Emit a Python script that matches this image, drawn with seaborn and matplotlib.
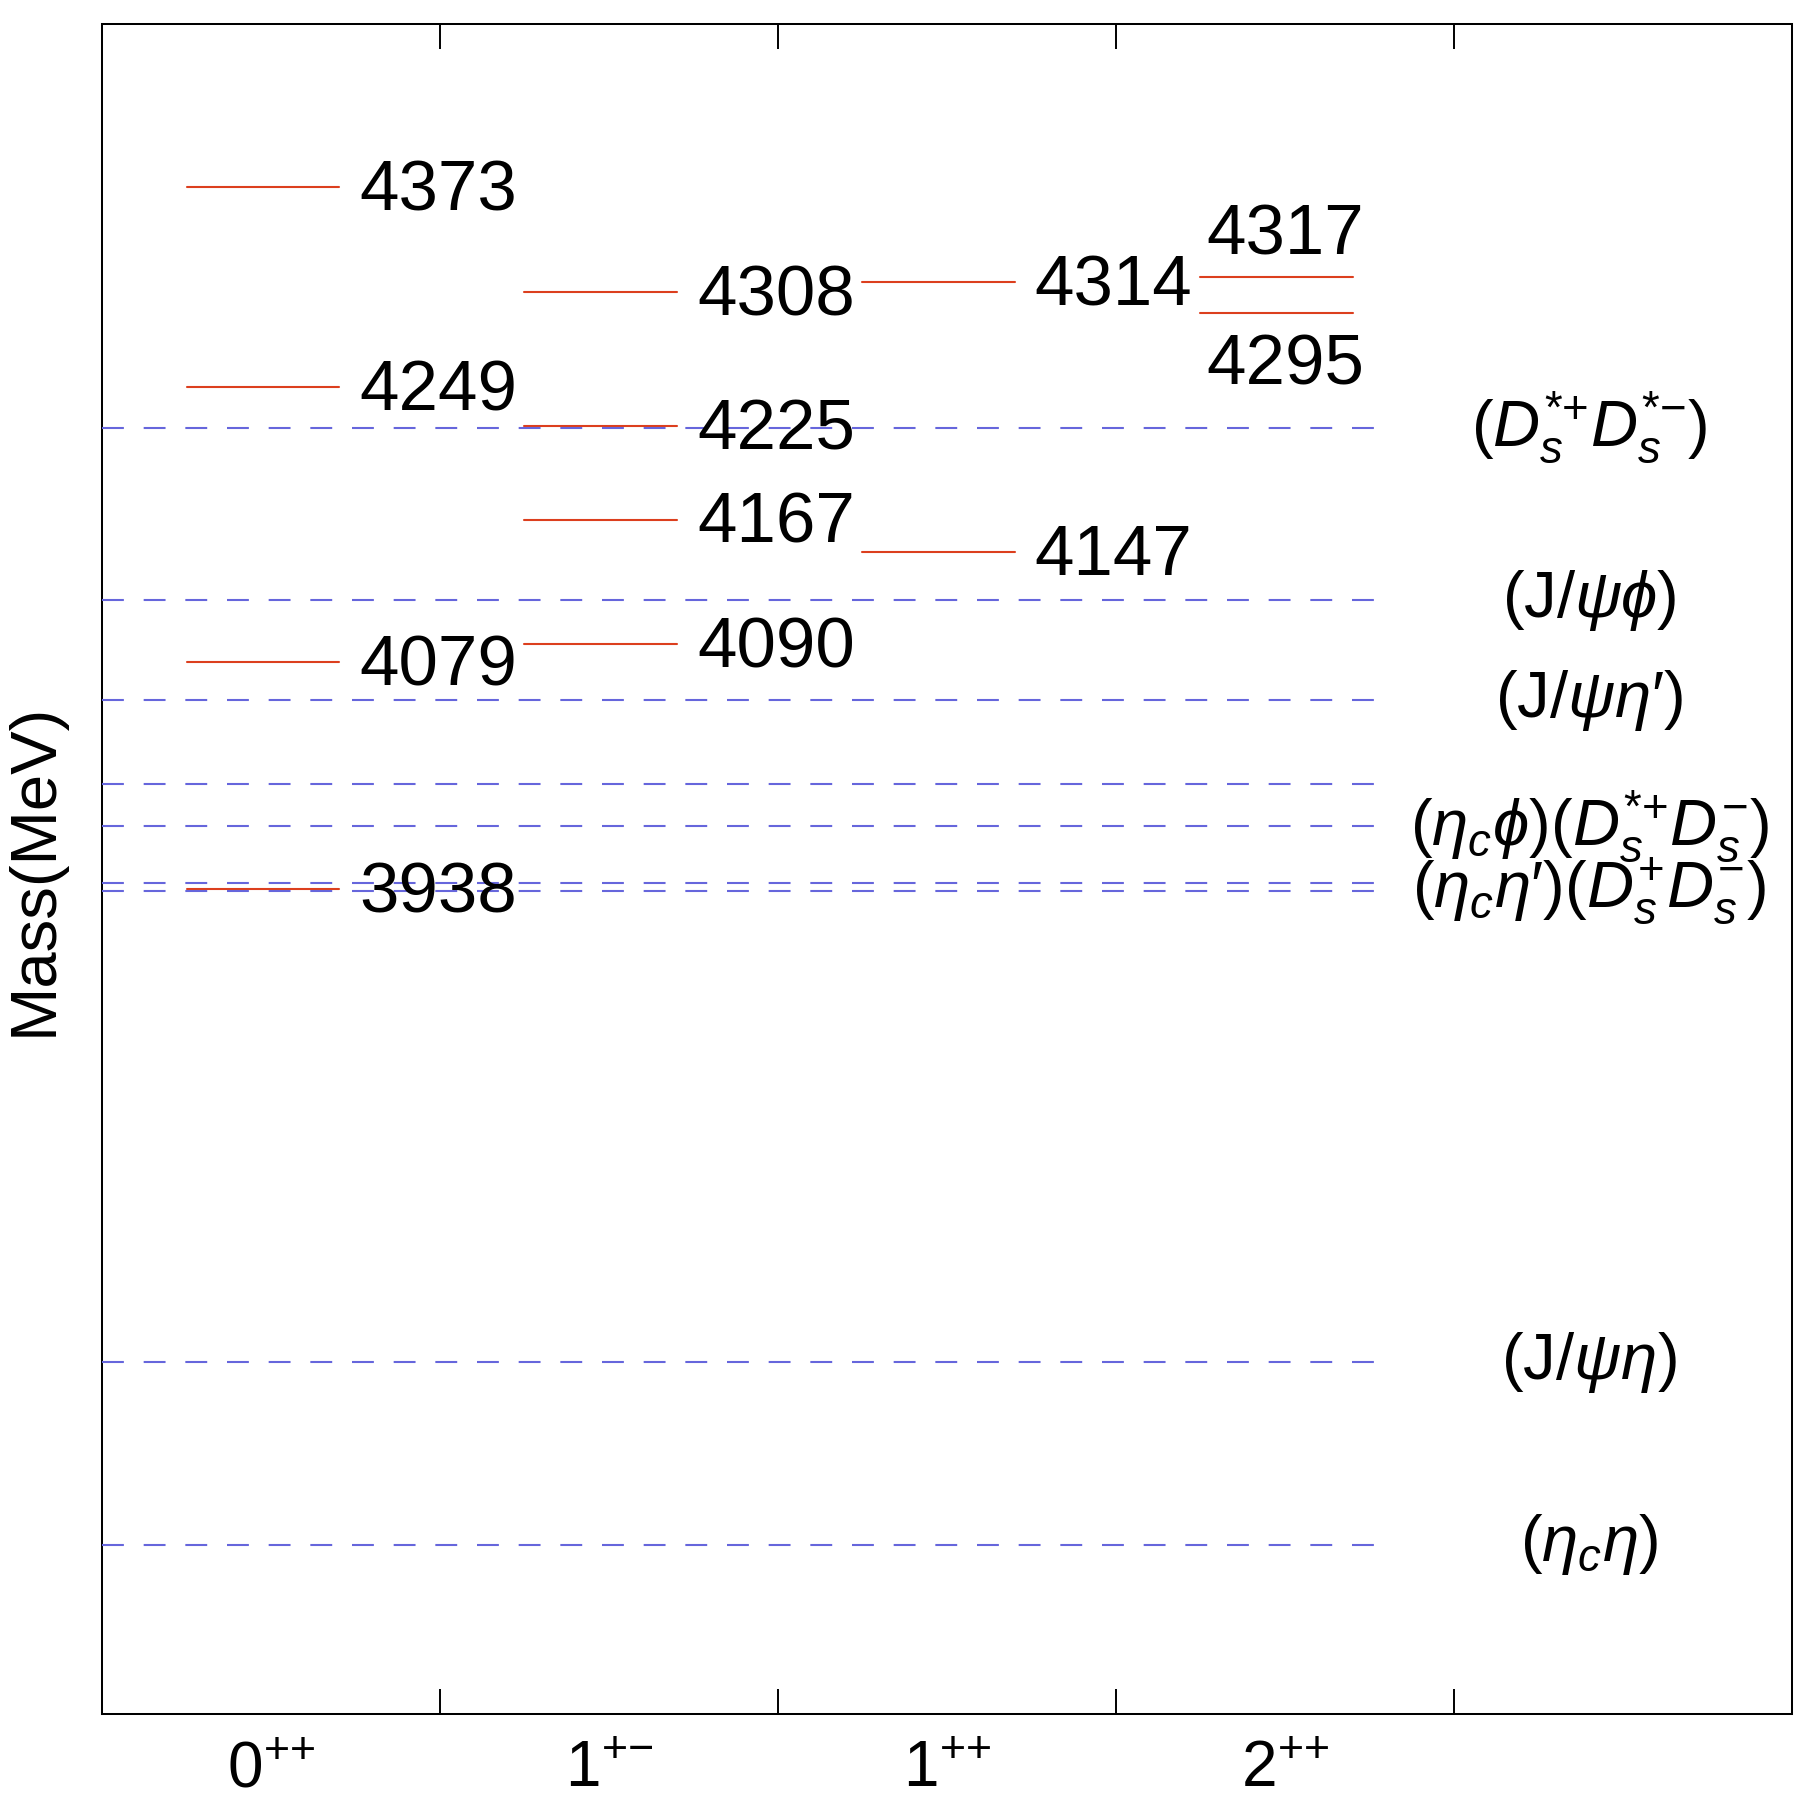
import matplotlib
matplotlib.use("Agg")

import pandas as pd
import matplotlib.pyplot as plt
import seaborn as sns


# J^PC columns
JPC_LABELS = [r"$0^{{+}{+}}$", r"$1^{{+}{-}}$", r"$1^{{+}{+}}$", r"$2^{{+}{+}}$"]

# predicted states (MeV), column index into JPC_LABELS
LEVEL_COLUMN = [0, 0, 0, 0, 1, 1, 1, 1, 2, 2, 3, 3]
LEVEL_MASS = [4373, 4249, 4079, 3938, 4308, 4225, 4167, 4090, 4314, 4147, 4317, 4295]

# two-meson thresholds (MeV); empty label = shares the label of the next line
THRESHOLD_MASS = [4224, 4117, 4055, 4003, 3977, 3942, 3937, 3645, 3532]
THRESHOLD_LABEL = [
    r"$(D_s^{{*}{+}}D_s^{{*}{-}})$",
    r"$(\mathrm{J}/\psi\phi)$",
    r"$(\mathrm{J}/\psi\eta\prime)$",
    "",
    r"$(\eta_c\phi)(D_s^{{*}{+}}D_s^{-})$",
    "",
    r"$(\eta_c\eta\prime)(D_s^{+}D_s^{-})$",
    r"$(\mathrm{J}/\psi\eta)$",
    r"$(\eta_c\eta)$",
]

RED = "#dc3f1e"
BLUE = "#6666dc"


def main() -> None:
    sns.set_theme(style="white")
    plt.rcParams["font.family"] = ["Liberation Sans", "DejaVu Sans"]
    plt.rcParams["mathtext.fontset"] = "custom"
    plt.rcParams["mathtext.rm"] = "Liberation Sans"
    plt.rcParams["mathtext.it"] = "Liberation Sans:italic"
    plt.rcParams["mathtext.bf"] = "Liberation Sans:bold"
    plt.rcParams["mathtext.fallback"] = "stixsans"
    plt.rcParams["text.color"] = "black"
    plt.rcParams["axes.labelcolor"] = "black"

    fig = plt.figure(figsize=(17.99, 18.05), dpi=100)
    ax = fig.add_axes([0.0567, 0.0504, 0.9394, 0.9363])

    # level segments as long-form data
    rows = []
    for k, (col, mass) in enumerate(zip(LEVEL_COLUMN, LEVEL_MASS)):
        rows.append({"seg": k, "x": col + 0.25, "mass": mass})
        rows.append({"seg": k, "x": col + 0.70, "mass": mass})
    seg_df = pd.DataFrame(rows)

    sns.lineplot(seg_df, x="x", y="mass", units="seg", estimator=None, sort=False,
                 color=RED, linewidth=1.5, legend=False, ax=ax, zorder=2)

    ax.hlines(THRESHOLD_MASS, 0, 3.8, colors=BLUE, linewidth=1.5,
              linestyles=[(0, (10.5, 9.5))], zorder=3)

    # level labels
    for col, mass in zip(LEVEL_COLUMN, LEVEL_MASS):
        same = [m for c, m in zip(LEVEL_COLUMN, LEVEL_MASS) if c == col]
        if col == 3:
            dy = 35 if mass == max(same) else -33
            ax.annotate(str(mass), (col + 0.5, mass), xytext=(0, dy), textcoords="offset points",
                        ha="center", va="center_baseline", fontsize=51)
        else:
            ax.annotate(str(mass), (col + 0.76, mass), xytext=(0, 1.5), textcoords="offset points",
                        ha="left", va="center_baseline", fontsize=51)

    for mass, label in zip(THRESHOLD_MASS, THRESHOLD_LABEL):
        if label:
            ax.text(4.4, mass, label, ha="center", va="center", fontsize=47)

    ax.set_xlim(0, 5)
    ax.set_ylim(3427, 4474)
    ax.set_xticks([0.5, 1.5, 2.5, 3.5], JPC_LABELS)
    ax.set_xticks([1, 2, 3, 4], minor=True)
    ax.set_yticks([])
    ax.tick_params(axis="x", which="major", length=0, pad=19, labelsize=46, colors="black")
    ax.tick_params(axis="x", which="minor", direction="in", length=18, width=1.4,
                   top=True, bottom=True, color="black")
    ax.set_xlabel("")
    ax.set_ylabel("Mass(MeV)", fontsize=47, labelpad=27)

    for spine in ax.spines.values():
        spine.set_color("black")
        spine.set_linewidth(1.45)

    fig.savefig("out.png", dpi=100, facecolor="white")
    plt.close(fig)


if __name__ == "__main__":
    main()
